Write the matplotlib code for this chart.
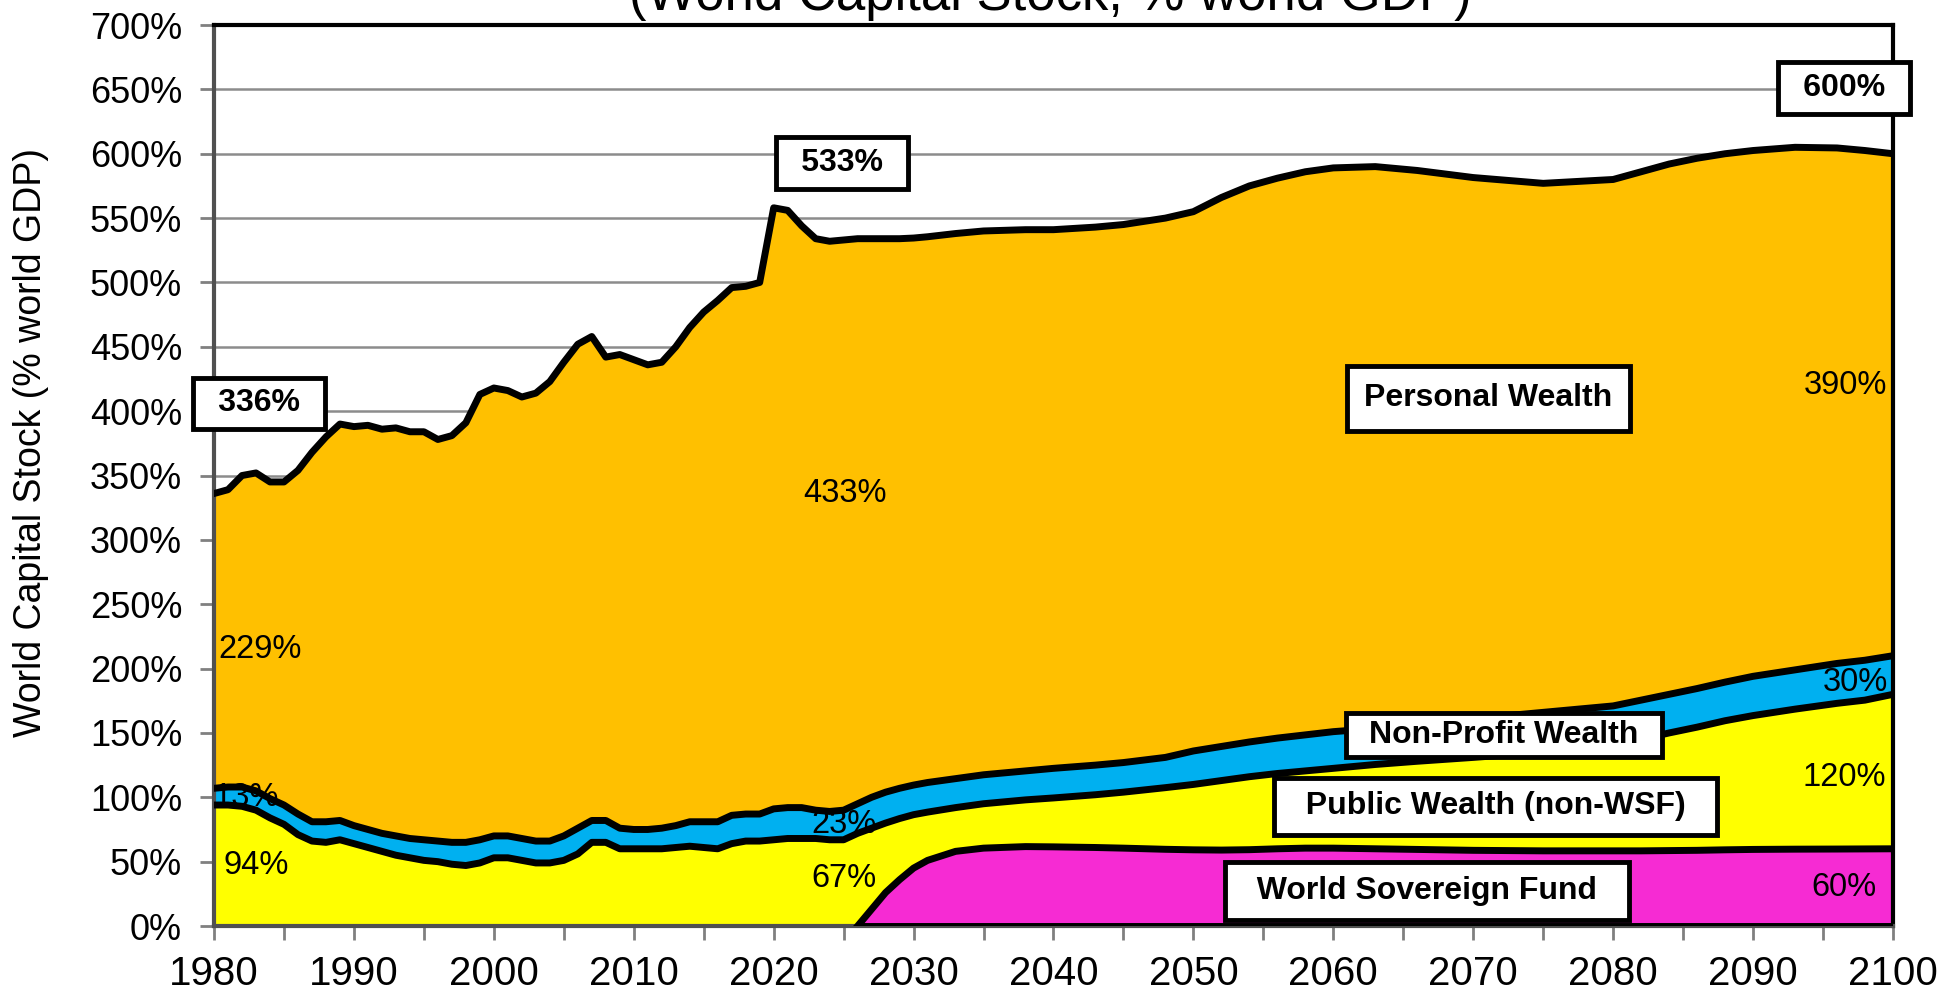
import numpy as np
import matplotlib.pyplot as plt
from matplotlib.ticker import MultipleLocator, FuncFormatter

plt.rcParams['font.family'] = ['Liberation Sans', 'DejaVu Sans']

# years: yearly history, then the projection points
years = [1980, 1981, 1982, 1983, 1984, 1985, 1986, 1987, 1988, 1989,
         1990, 1991, 1992, 1993, 1994, 1995, 1996, 1997, 1998, 1999,
         2000, 2001, 2002, 2003, 2004, 2005, 2006, 2007, 2008, 2009,
         2010, 2011, 2012, 2013, 2014, 2015, 2016, 2017, 2018, 2019,
         2020, 2021, 2022, 2023, 2024, 2025,
         2026, 2027, 2028, 2029, 2030, 2031, 2033, 2035, 2038, 2040,
         2043, 2045, 2048, 2050, 2052, 2054, 2056, 2058, 2060, 2063,
         2066, 2070, 2075, 2080, 2082, 2084, 2086, 2088, 2090, 2093,
         2096, 2098, 2100]

# % of world GDP, bottom layer first
wsf = [0, 0, 0, 0, 0, 0, 0, 0, 0, 0,
       0, 0, 0, 0, 0, 0, 0, 0, 0, 0,
       0, 0, 0, 0, 0, 0, 0, 0, 0, 0,
       0, 0, 0, 0, 0, 0, 0, 0, 0, 0,
       0, 0, 0, 0, 0, 0,
       0, 13, 26, 36, 45, 51, 58, 60.5, 61.7, 61.5,
       61, 60.5, 59.6, 59.2, 59, 59.3, 60, 60.5, 60.5, 60,
       59.5, 58.8, 58.4, 58.4, 58.4, 58.6, 58.8, 59.2, 59.5, 59.7,
       59.8, 59.9, 60]

public = [94, 94, 93, 90, 84, 79, 71, 66, 65, 67,
          64, 61, 58, 55, 53, 51, 50, 48, 47, 49,
          53, 53, 51, 49, 49, 51, 56, 65, 65, 60,
          60, 60, 60, 61, 62, 61, 60, 64, 66, 66,
          67, 68, 68, 68, 67, 67,
          72, 63, 54, 47.5, 41.5, 37.5, 34, 34.5, 36.3, 38,
          41, 43.5, 47.9, 50.8, 54, 56.7, 58.5, 60, 62, 65.5,
          68.5, 72.2, 76.6, 81.6, 86.6, 91.4, 95.7, 100.3, 104, 108.8,
          113.2, 115.6, 120]

nonprofit = [13, 14, 15, 15, 15, 15, 16, 15, 16, 15,
             14, 14, 14, 15, 15, 16, 16, 17, 18, 18,
             17, 17, 17, 17, 17, 19, 20, 17, 17, 16,
             15, 15, 16, 17, 19, 20, 21, 22, 21, 21,
             24, 24, 24, 22, 22, 23,
             23, 24, 24, 23.5, 23, 23, 22.5, 22.5, 22.5, 23,
             23, 23, 23.5, 26, 26.5, 27, 27.5, 28, 28.5, 28,
             28.5, 30, 31, 31, 30.5, 30, 30, 30, 30.5, 30.5,
             31, 31, 30]

personal = [229, 231, 242, 247, 246, 251, 267, 287, 299, 308,
            310, 314, 314, 317, 316, 317, 312, 316, 326, 346,
            348, 346, 343, 348, 357, 368, 376, 376, 360, 368,
            365, 361, 362, 372, 384, 396, 405, 410, 410, 413,
            467, 464, 452, 444, 443, 443,
            439, 434, 430, 427, 425, 424, 423.5, 422.5, 420.5, 418.5,
            418, 418, 419, 419, 426.5, 432, 435, 437.5, 438, 436.5,
            430.5, 420.5, 411, 409, 410.5, 412, 412, 410.5, 408.5, 406,
            400.5, 396, 390]

ORANGE = '#FFC000'
BLUE = '#00B0F0'
YELLOW = '#FFFF00'
MAGENTA = '#F62BD3'

yrs = np.array(years)
b0 = np.array(wsf)
b1 = b0 + np.array(public)
b2 = b1 + np.array(nonprofit)
b3 = b2 + np.array(personal)
fund = yrs >= 2026

fig = plt.figure(figsize=(19.6, 9.97), dpi=100)
ax = fig.add_axes([0.1092, 0.0712, 0.8566, 0.9037])

ax.fill_between(yrs, b2, b3, color=ORANGE, lw=0, zorder=1)
ax.fill_between(yrs, b1, b2, color=BLUE, lw=0, zorder=1)
ax.fill_between(yrs, b0, b1, color=YELLOW, lw=0, zorder=1)
ax.fill_between(yrs[fund], 0, b0[fund], color=MAGENTA, lw=0, zorder=1)

for top in (b3, b2, b1):
    ax.plot(yrs, top, color='black', lw=5, zorder=3, solid_joinstyle='round')
ax.plot(yrs[fund], b0[fund], color='black', lw=5, zorder=3, solid_joinstyle='round')
ax.hlines(0, yrs[fund][0], yrs[-1], color='black', lw=5, zorder=3)

ax.set_xlim(1980, 2100)
ax.set_ylim(0, 700)
ax.xaxis.set_major_locator(MultipleLocator(10))
ax.xaxis.set_minor_locator(MultipleLocator(5))
ax.yaxis.set_major_locator(MultipleLocator(50))
ax.yaxis.set_major_formatter(FuncFormatter(lambda v, p: f"{v:.0f}%"))
ax.grid(axis='y', color='#8c8c8c', lw=1.8)
ax.set_axisbelow(True)
ax.tick_params(axis='both', which='both', direction='out', length=10, width=2,
               color='#808080')
ax.tick_params(axis='x', pad=11, labelsize=29)
ax.tick_params(axis='y', pad=13, labelsize=26)
for s in ('top', 'right'):
    ax.spines[s].set_color('black')
    ax.spines[s].set_linewidth(3)
for s in ('left', 'bottom'):
    ax.spines[s].set_color('#505050')
    ax.spines[s].set_linewidth(3)

ax.set_ylabel('World Capital Stock (% world GDP)', fontsize=27)
ax.yaxis.set_label_coords(-0.098, 0.537)

fig.text(0.5357, 0.990, '(World Capital Stock, % world GDP)', ha='center',
         va='baseline', fontsize=38)

# value labels inside the layers (partly under the outlines)
inline = [('229%', 1983.3, 215), ('13%', 1982.3, 100), ('94%', 1983.0, 47),
          ('433%', 2025.1, 336), ('23%', 2025.0, 79), ('67%', 2025.0, 37),
          ('390%', 2096.6, 420), ('30%', 2097.3, 189), ('120%', 2096.5, 115),
          ('60%', 2096.5, 30)]
for txt, x, y in inline:
    ax.text(x, y, txt, ha='center', va='center', fontsize=23.5, zorder=2)

# boxed labels
sp = ' \u2006'
boxed = [(sp + '336%' + sp, 1983.2, 406, 0.34), (sp + '533%' + sp, 2024.9, 593, 0.34),
         (sp + '600%' + sp, 2096.5, 651, 0.34),
         ('Personal Wealth', 2071.1, 410, 0.55),
         ('\u2002Non-Profit Wealth\u2002', 2072.2, 148.5, 0.22),
         ('  Public Wealth (non-WSF)  ', 2071.6, 93, 0.42),
         ('  World Sovereign Fund  ', 2066.7, 27, 0.44)]
for txt, x, y, pad in boxed:
    ax.text(x, y, txt, ha='center', va='center', fontsize=23, fontweight='bold',
            zorder=5, bbox=dict(boxstyle=f'square,pad={pad}', fc='white',
                                ec='black', lw=3.5))

fig.savefig('out.png', dpi=100)
